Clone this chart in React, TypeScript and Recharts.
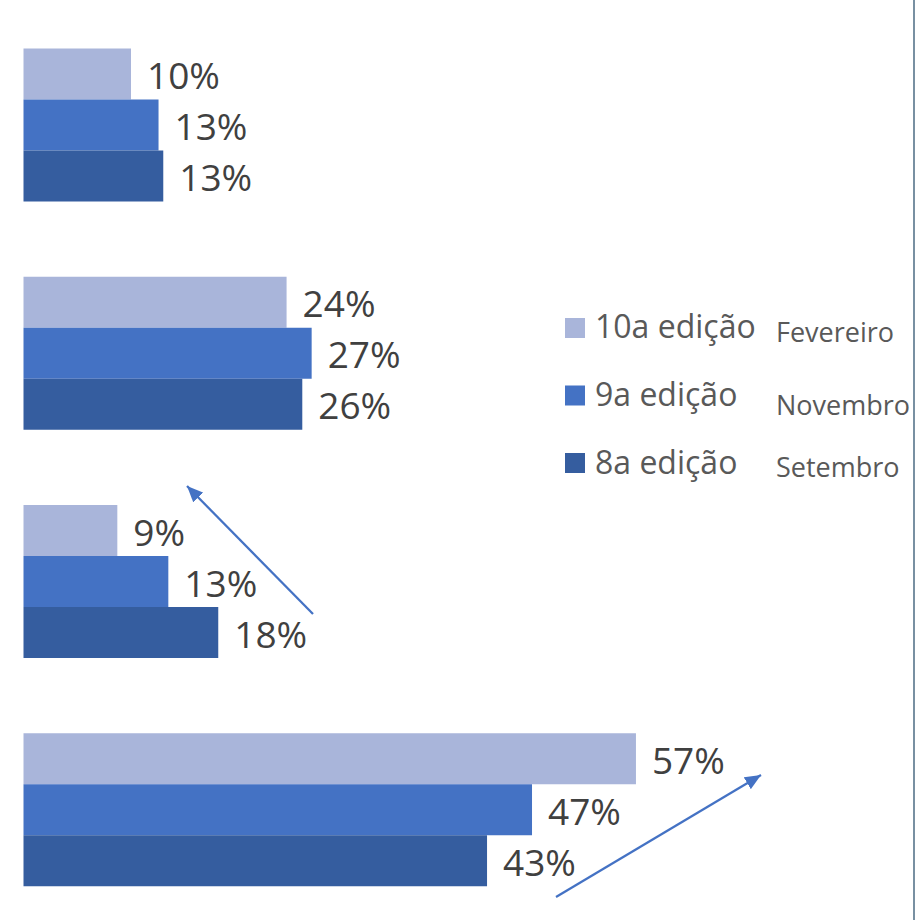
import React from 'react';
import { BarChart, Bar, XAxis, YAxis, LabelList, Legend } from 'recharts';

const categories = ['Grupo 1', 'Grupo 2', 'Grupo 3', 'Grupo 4'];
const ed10 = [9.99, 24.45, 8.72, 56.92];
const ed9 = [12.55, 26.78, 13.46, 47.26];
const ed8 = [12.99, 25.91, 18.1, 43.08];
const seriesKeys = ['e10', 'e9', 'e8'];
const seriesNames = ['10a edição', '9a edição', '8a edição'];
const seriesMonths = ['Fevereiro', 'Novembro', 'Setembro'];
const seriesColors = ['#A9B5DA', '#4472C4', '#355D9F'];
const xDomain = [0, 80];

const data = categories.map((name, i) => ({ name, e10: ed10[i], e9: ed9[i], e8: ed8[i] }));

const FONT = '"Open Sans", "DejaVu Sans", sans-serif';

const renderLabel = (props: any) => {
  const { x, y, width, height, value } = props;
  return (
    <text
      x={Number(x) + Number(width) + 16}
      y={Number(y) + Number(height) / 2 + 15}
      fontFamily={FONT}
      fontSize={37}
      fill="#404040"
    >
      {Math.round(Number(value))}%
    </text>
  );
};

const renderLegend = (props: any) => {
  const payload = [...(props.payload || [])].sort(
    (a: any, b: any) => seriesNames.indexOf(a.value) - seriesNames.indexOf(b.value)
  );
  const monthBase = [52, 125, 187];
  return (
    <svg width={360} height={210} style={{ overflow: 'visible' }}>
      {payload.map((p: any, i: number) => (
        <g key={i}>
          <rect x={5} y={28 + 67.5 * i} width={20} height={20} fill={p.color} />
          <text x={35} y={48 + 68 * i} fontFamily={FONT} fontSize={32} fill="#595959">
            {p.value}
          </text>
          <text x={216} y={monthBase[i]} fontFamily={FONT} fontSize={27} fill="#595959">
            {seriesMonths[seriesNames.indexOf(p.value)]}
          </text>
        </g>
      ))}
    </svg>
  );
};

const arrows = [
  { x1: 313, y1: 614, x2: 187, y2: 486 },
  { x1: 556, y1: 897, x2: 761, y2: 775 },
];

export default function App() {
  return (
    <div
      style={{
        position: 'absolute',
        left: 0,
        top: 0,
        width: 920,
        height: 920,
        overflow: 'hidden',
        background: '#ffffff',
      }}
    >
      <BarChart
        width={920}
        height={930}
        data={data}
        layout="vertical"
        margin={{ top: 10.5, right: 35.7, bottom: 6.5, left: 23.5 }}
        barGap={0}
        barSize={51}
      >
        <XAxis type="number" domain={xDomain} hide />
        <YAxis
          type="category"
          dataKey="name"
          tick={false}
          tickLine={false}
          axisLine={{ stroke: '#D9D9D9', strokeWidth: 2 }}
          width={0}
        />
        <Legend
          layout="horizontal"
          verticalAlign="middle"
          align="center"
          content={renderLegend}
          wrapperStyle={{ position: 'absolute', left: 560, top: 290, width: 360, height: 210 }}
        />
        {seriesKeys.map((k, i) => (
          <Bar key={k} dataKey={k} name={seriesNames[i]} fill={seriesColors[i]} isAnimationActive={false}>
            <LabelList dataKey={k} content={renderLabel} />
          </Bar>
        ))}
      </BarChart>
      <div
        style={{
          position: 'absolute',
          left: 913,
          top: 0,
          width: 2,
          height: 920,
          background: '#7890A2',
        }}
      />
      <svg
        width={920}
        height={920}
        style={{ position: 'absolute', left: 0, top: 0, pointerEvents: 'none' }}
      >
        <defs>
          <marker
            id="ah"
            markerWidth={16}
            markerHeight={14}
            refX={16}
            refY={7}
            orient="auto"
            markerUnits="userSpaceOnUse"
          >
            <path d="M0,0 L16,7 L0,14 z" fill="#4472C4" />
          </marker>
        </defs>
        {arrows.map((a, i) => (
          <line
            key={i}
            x1={a.x1}
            y1={a.y1}
            x2={a.x2}
            y2={a.y2}
            stroke="#4472C4"
            strokeWidth={2.25}
            markerEnd="url(#ah)"
          />
        ))}
      </svg>
    </div>
  );
}
